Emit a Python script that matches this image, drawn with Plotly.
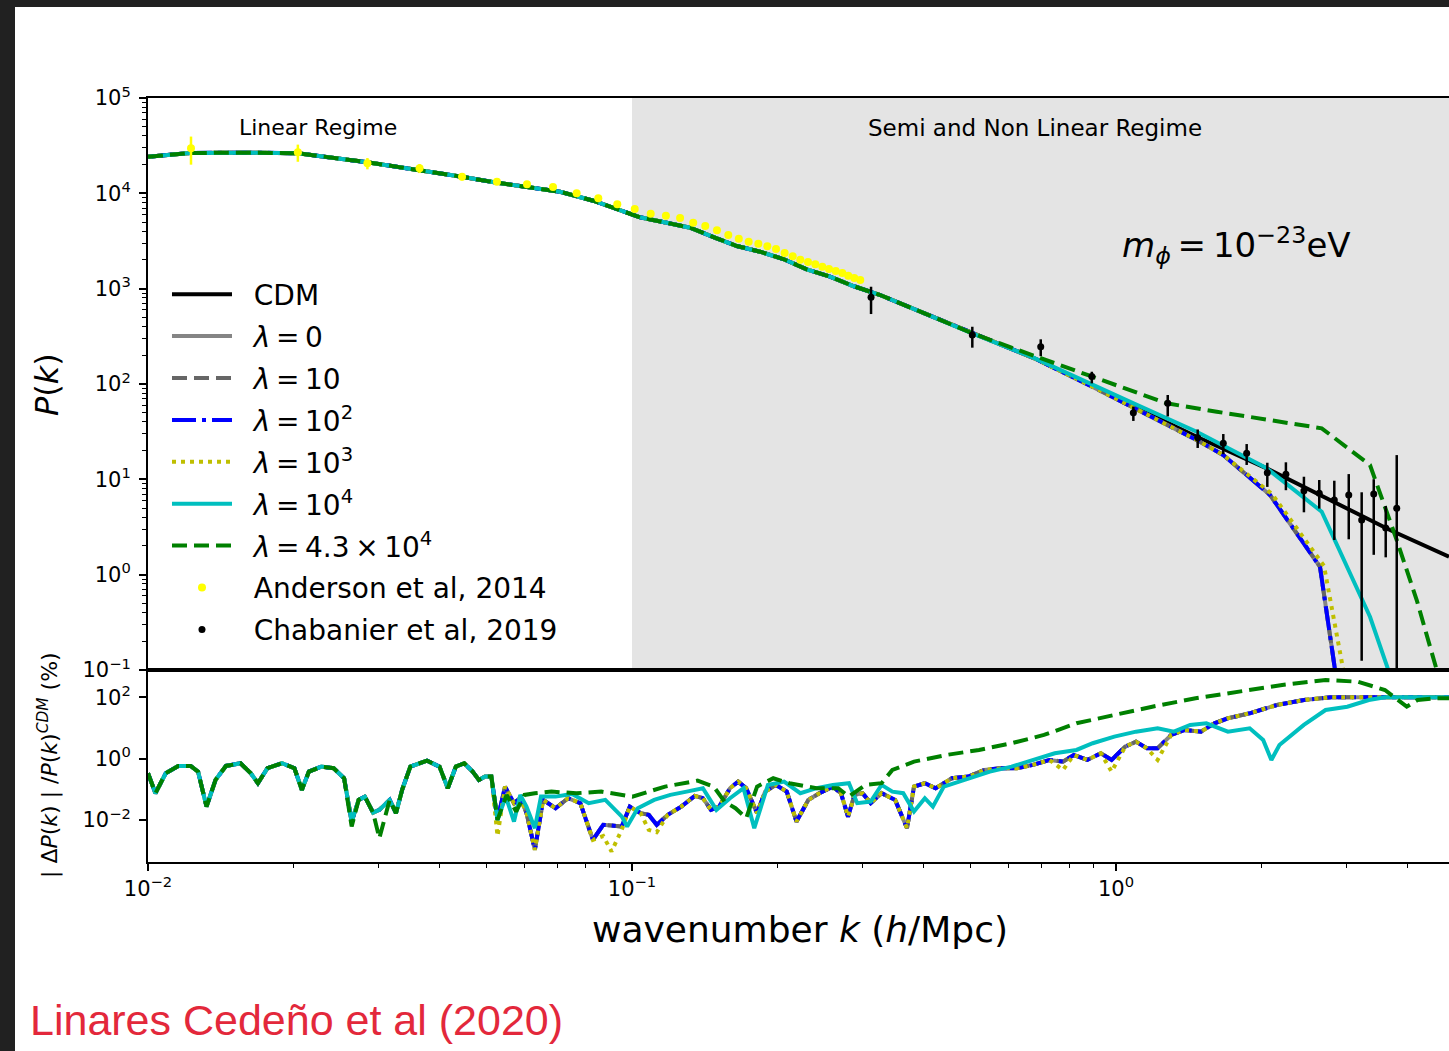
import plotly.graph_objects as go

# ---------------- data ----------------
# Upper panel, P(k): part shared by all models (k <= 0.5 h/Mpc)
k_lin = [0.0100, 0.01222, 0.01656, 0.02040, 0.02835, 0.03640, 0.04455, 0.05260, 0.06068, 0.07099,
         0.08318, 0.09370, 0.1039, 0.1179, 0.1318, 0.1496, 0.1646, 0.1839, 0.2054, 0.2296,
         0.2565, 0.2865, 0.3255, 0.4022, 0.5048]
P_lin = [24200, 26500, 26700, 26300, 21200, 17600, 14900, 12930, 11730, 10400,
         8370, 6800, 5605, 4919, 4360, 3375, 2802, 2442, 2047, 1596,
         1335, 1066, 858, 551, 340]

# Upper panel: high-k tails of each model
k_cdm = [0.6783, 0.8913, 1.086, 1.468, 2.048, 3.682, 4.875]
P_cdm = [186, 95.3, 59.0, 28.0, 13.05, 2.94, 1.543]
k_l0 = [0.6783, 0.8913, 1.086, 1.468, 1.666, 2.081, 2.639, 2.835, 2.876]      # lambda = 0, 10, 10^2
P_l0 = [186, 94.4, 56.9, 25.9, 17.99, 6.85, 1.21, 0.1, 0.0299]
k_l3 = [0.6783, 0.8913, 1.086, 1.468, 1.666, 2.101, 2.690, 3.001]
P_l3 = [186, 94.4, 56.9, 25.9, 17.99, 7.01, 1.233, 0.0616]
k_l4 = [0.6783, 0.8913, 1.084, 1.468, 1.666, 2.048, 2.661, 3.348, 3.653, 3.771]
P_l4 = [187, 98, 63, 31.6, 22.4, 13.05, 4.575, 0.362, 0.1, 0.0484]
k_l43 = [0.6783, 0.7306, 0.8913, 1.273, 1.615, 2.661, 3.348, 3.802, 4.181, 4.599, 4.671]
P_l43 = [197, 171.4, 120, 62.7, 51.2, 34.3, 14.13, 2.31, 0.542, 0.1, 0.0616]

# Anderson et al, 2014
k_and = [0.01227, 0.0204, 0.0284, 0.0364, 0.04455, 0.05259, 0.06068, 0.06868, 0.07685, 0.08518,
         0.09324, 0.1013, 0.1093, 0.1175, 0.1257, 0.1338, 0.1417, 0.1498, 0.1581, 0.1662,
         0.1742, 0.1824, 0.1904, 0.1984, 0.2067, 0.2148, 0.2227, 0.2310, 0.2392, 0.2473,
         0.2553, 0.2636, 0.2720, 0.2798, 0.2879, 0.2962]
P_and = [29690, 26940, 20650, 18310, 14940, 13240, 12430, 11650, 10007, 8868,
         7672, 6847, 6113, 5824, 5511, 4919, 4542, 4095, 3655, 3343,
         3109, 2962, 2782, 2606, 2366, 2185, 2013, 1904, 1801, 1700,
         1607, 1532, 1460, 1368, 1294, 1233]
e_and = [9700, 5500, 2800, 2000, 1300, 900, 700, 500, 350, 280,
         220, 180, 150, 130, 110, 100, 90, 80, 70, 65,
         60, 55, 50, 48, 45, 42, 40, 38, 36, 34,
         32, 30, 29, 28, 27, 26]

# Chabanier et al, 2019
k_chab = [0.3118, 0.5048, 0.699, 0.8913, 1.086, 1.279, 1.475, 1.666, 1.862, 2.054,
          2.244, 2.445, 2.630, 2.825, 3.026, 3.218, 3.408, 3.608, 3.802]
P_chab = [811.8, 326.5, 246.2, 119.5, 49.97, 62.7, 27.33, 23.87, 18.75, 11.73,
          11.29, 7.60, 7.136, 6.07, 6.85, 3.745, 7.015, 3.09, 4.966]
ep_chab = [236, 72, 48, 15, 8, 14, 6, 6, 4.7, 3.2, 3.8, 3.05, 2.7, 3.6, 4.5, 3.57, 3.0, 2.16, 13]
em_chab = [270, 86, 50, 18, 9, 17, 6, 5.5, 4.6, 3.4, 3.6, 3.09, 2.2, 3.76, 4.5, 3.62, 5.4, 1.57, 4.9]

# Lower panel, |dP|/P_CDM (%): part shared by all models (k <= 0.051)
k_r_lo = [0.01000, 0.01036, 0.01088, 0.01155, 0.01225, 0.01269, 0.01321, 0.01379, 0.01449, 0.01553,
          0.01631, 0.01687, 0.01765, 0.01891, 0.02007, 0.02079, 0.02150, 0.02281, 0.02419, 0.02542,
          0.02635, 0.02724, 0.02805, 0.02918, 0.03006, 0.03157, 0.03253, 0.03350, 0.03484, 0.03771,
          0.04002, 0.04163, 0.04326, 0.04502, 0.04685, 0.04827, 0.04970, 0.05121]
r_lo = [0.3345, 0.0746, 0.3345, 0.578, 0.578, 0.377, 0.0273, 0.2024, 0.578, 0.708,
        0.3345, 0.158, 0.4867, 0.708, 0.4867, 0.0956, 0.377, 0.549, 0.4867, 0.230,
        0.00887, 0.0452, 0.0578, 0.0174, 0.0213, 0.0452, 0.01666, 0.0956, 0.549, 0.861,
        0.549, 0.1086, 0.549, 0.708, 0.377, 0.2024, 0.2594, 0.2594]
r_lo_l43 = [0.3345, 0.0746, 0.3345, 0.578, 0.578, 0.377, 0.0273, 0.2024, 0.578, 0.708,
            0.3345, 0.158, 0.4867, 0.708, 0.4867, 0.0956, 0.377, 0.549, 0.4867, 0.230,
            0.0061, 0.0452, 0.0578, 0.0174, 0.00255, 0.0452, 0.01666, 0.0956, 0.549, 0.861,
            0.549, 0.1086, 0.549, 0.708, 0.377, 0.2024, 0.2594, 0.2594]

# Lower panel: lambda = 0, 10, 10^2 (identical) and 10^3
k_r_hi = [0.05274, 0.05465, 0.05704, 0.05877, 0.06053, 0.06299, 0.06552, 0.06952, 0.07376, 0.07821,
          0.08302, 0.08720, 0.09072, 0.09521, 0.09897, 0.1042, 0.1083, 0.1125, 0.1185, 0.1264,
          0.1348, 0.1401, 0.1456, 0.1514, 0.1594, 0.1657, 0.1722, 0.1813, 0.1884, 0.1983,
          0.2088, 0.2187, 0.2314, 0.2438, 0.2600, 0.2702, 0.2795, 0.2882, 0.2995, 0.3113,
          0.3278, 0.3497, 0.3700, 0.3825, 0.4027, 0.4239, 0.4581, 0.4951, 0.5348, 0.5779,
          0.6242, 0.6740, 0.7285, 0.7771, 0.8178, 0.8724, 0.9302, 0.9793, 1.0447, 1.0998,
          1.1578, 1.219, 1.300, 1.387, 1.498, 1.597, 1.703, 1.889, 2.149, 2.444,
          2.781, 3.5, 4.875]
r_hi_l0 = [0.01008, 0.1225, 0.0353, 0.0513, 0.0170, 0.00106, 0.0452, 0.0242, 0.0513, 0.0353,
           0.00225, 0.00693, 0.00657, 0.0061, 0.0273, 0.01666, 0.01466, 0.00693, 0.01466, 0.0273,
           0.0610, 0.0513, 0.0213, 0.0273, 0.1086, 0.1781, 0.1086, 0.01666, 0.0841, 0.139,
           0.0841, 0.00887, 0.0452, 0.0746, 0.1225, 0.0746, 0.0129, 0.0657, 0.0746, 0.0353,
           0.0746, 0.0452, 0.0054, 0.1225, 0.158, 0.1086, 0.230, 0.2594, 0.4284, 0.4867,
           0.4867, 0.6235, 0.9073, 0.7985, 1.32, 0.9073, 1.499, 0.9073, 2.459, 3.578,
           2.182, 2.182, 5.916, 8.606, 7.576, 14.23, 20.7, 30.1, 56.1, 81.7,
           100, 100, 100]
r_hi_l3 = [0.003, 0.1225, 0.0353, 0.0513, 0.0170, 0.00106, 0.0452, 0.0242, 0.0513, 0.0353,
           0.00225, 0.003, 0.00094, 0.00476, 0.0273, 0.01666, 0.00476, 0.004, 0.01466, 0.0273,
           0.0610, 0.0513, 0.0213, 0.0273, 0.1086, 0.1781, 0.1086, 0.01666, 0.0841, 0.139,
           0.0841, 0.00887, 0.0452, 0.0746, 0.1225, 0.0746, 0.0129, 0.0657, 0.0746, 0.0353,
           0.0746, 0.0452, 0.0054, 0.1225, 0.158, 0.1086, 0.230, 0.2594, 0.4284, 0.4867,
           0.4867, 0.6235, 0.9073, 0.428, 1.32, 0.9073, 1.499, 0.377, 2.459, 3.578,
           2.182, 0.9073, 5.916, 8.606, 7.576, 14.23, 20.7, 30.1, 56.1, 81.7,
           100, 100, 100]

# Lower panel: lambda = 10^4
k_r_l4 = [0.05274, 0.05486, 0.05704, 0.05877, 0.06053, 0.06299, 0.06486, 0.06952, 0.07517, 0.0814,
          0.08807, 0.0953, 0.0977, 0.1028, 0.1111, 0.1200, 0.1297, 0.1401, 0.1494, 0.1594,
          0.1700, 0.1789, 0.1909, 0.2062, 0.2227, 0.2406, 0.2600, 0.2807, 0.2920, 0.3113,
          0.3278, 0.3451, 0.3634, 0.3825, 0.4027, 0.4184, 0.4408, 0.4951, 0.5488, 0.6083,
          0.6740, 0.7473, 0.8285, 0.8951, 0.992, 1.0998, 1.219, 1.317, 1.423, 1.537,
          1.703, 1.889, 2.014, 2.094, 2.176, 2.444, 2.710, 3.005, 3.329, 3.595,
          4.875]
r_r_l4 = [0.01008, 0.0578, 0.00887, 0.0657, 0.0273, 0.0054, 0.0578, 0.0578, 0.0708, 0.0353,
          0.0452, 0.0129, 0.0061, 0.0242, 0.0452, 0.0657, 0.0841, 0.1086, 0.0213, 0.0513,
          0.1086, 0.0054, 0.139, 0.1781, 0.0746, 0.1086, 0.139, 0.158, 0.0353, 0.0398,
          0.139, 0.0841, 0.0746, 0.0188, 0.0513, 0.0273, 0.1225, 0.230, 0.377, 0.549,
          0.9073, 1.499, 1.920, 3.175, 5.207, 7.576, 9.78, 7.576, 12.53, 14.23,
          7.576, 9.78, 4.065, 0.9073, 2.795, 12.53, 38.6, 49.4, 81.7, 100,
          100]

# Lower panel: lambda = 4.3 x 10^4
k_r_l43 = [0.05274, 0.05507, 0.05764, 0.05996, 0.06299, 0.06818, 0.07669, 0.08638, 0.1002, 0.1170,
           0.1366, 0.1475, 0.1553, 0.1636, 0.1722, 0.1813, 0.1958, 0.2115, 0.2406, 0.2667,
           0.2807, 0.3034, 0.3278, 0.3451, 0.3825, 0.4465, 0.5211, 0.6083, 0.7099, 0.8285,
           0.992, 1.188, 1.460, 1.794, 2.205, 2.710, 3.162, 3.595, 3.987, 4.197,
           4.536, 4.875]
r_r_l43 = [0.01008, 0.0657, 0.0188, 0.0657, 0.0746, 0.0841, 0.0746, 0.0841, 0.0578, 0.1225,
           0.192, 0.1225, 0.0398, 0.0242, 0.01145, 0.1225, 0.230, 0.158, 0.1086, 0.1086,
           0.0578, 0.139, 0.158, 0.4284, 0.7985, 1.32, 1.920, 3.175, 5.916, 14.23,
           26.5, 49.4, 92.8, 152, 251.6, 366, 322, 172.9, 49.4, 81.7,
           92.8, 92.8]

# tick labels
top_y_ticks = [0.1, 1, 10, 100, 1000, 10000, 100000]
top_y_text = ["10<sup>−1</sup>", "10<sup>0</sup>", "10<sup>1</sup>", "10<sup>2</sup>",
              "10<sup>3</sup>", "10<sup>4</sup>", "10<sup>5</sup>"]
bot_y_ticks = [0.01, 1, 100]
bot_y_text = ["10<sup>−2</sup>", "10<sup>0</sup>", "10<sup>2</sup>"]
x_ticks = [0.01, 0.1, 1]
x_text = ["10<sup>−2</sup>", "10<sup>−1</sup>", "10<sup>0</sup>"]

# ---------------- styles ----------------
FONT = "DejaVu Sans"
LW = 4
GAP = "\u2002\u200a"   # gap between legend sample and label
S = "\u2009"           # thin space (math-style spacing)
models = [
    dict(name="<i>λ</i>" + S + "=" + S + "0", color="#858585", dash="solid",
         k=k_lin + k_l0, P=P_lin + P_l0, kr=k_r_lo + k_r_hi, r=r_lo + r_hi_l0),
    dict(name="<i>λ</i>" + S + "=" + S + "10", color="#666666", dash="15px,7px",
         k=k_lin + k_l0, P=P_lin + P_l0, kr=k_r_lo + k_r_hi, r=r_lo + r_hi_l0),
    dict(name="<i>λ</i>" + S + "=" + S + "10<sup>2</sup>", color="#0000ff", dash="24px,6px,4px,6px",
         k=k_lin + k_l0, P=P_lin + P_l0, kr=k_r_lo + k_r_hi, r=r_lo + r_hi_l0),
    dict(name="<i>λ</i>" + S + "=" + S + "10<sup>3</sup>", color="#bfbf00", dash="4px,5px",
         k=k_lin + k_l3, P=P_lin + P_l3, kr=k_r_lo + k_r_hi, r=r_lo + r_hi_l3),
    dict(name="<i>λ</i>" + S + "=" + S + "10<sup>4</sup>", color="#00bfbf", dash="solid",
         k=k_lin + k_l4, P=P_lin + P_l4, kr=k_r_lo + k_r_l4, r=r_lo + r_r_l4),
    dict(name="<i>λ</i>" + S + "=" + S + "4.3" + S + "×" + S + "10<sup>4</sup>", color="#008000",
         dash="15px,7px",
         k=k_lin + k_l43, P=P_lin + P_l43, kr=k_r_lo + k_r_l43, r=r_lo_l43 + r_r_l43),
]

fig = go.Figure()

# CDM (upper panel)
fig.add_trace(go.Scatter(x=k_lin + k_cdm, y=P_lin + P_cdm, mode="lines", name=GAP + "CDM",
                         line=dict(color="black", width=LW), xaxis="x", yaxis="y",
                         legendgroup="cdm"))
for i, m in enumerate(models):
    fig.add_trace(go.Scatter(x=m["k"], y=m["P"], mode="lines", name=GAP + m["name"],
                             line=dict(color=m["color"], width=LW, dash=m["dash"]),
                             xaxis="x", yaxis="y", legendgroup="m%d" % i))

fig.add_trace(go.Scatter(x=k_and, y=P_and, mode="markers", name=GAP + "Anderson et al, 2014",
                         marker=dict(color="#ffff00", size=8),
                         error_y=dict(type="data", array=e_and, color="#ffff00", thickness=2.5, width=0),
                         xaxis="x", yaxis="y", legendgroup="and"))
fig.add_trace(go.Scatter(x=k_chab, y=P_chab, mode="markers", name=GAP + "Chabanier et al, 2019",
                         marker=dict(color="black", size=7),
                         error_y=dict(type="data", symmetric=False, array=ep_chab, arrayminus=em_chab,
                                      color="black", thickness=2.5, width=0),
                         xaxis="x", yaxis="y", legendgroup="chab"))

# lower panel
for m in models:
    fig.add_trace(go.Scatter(x=m["kr"], y=m["r"], mode="lines", showlegend=False,
                             line=dict(color=m["color"], width=LW, dash=m["dash"]),
                             xaxis="x2", yaxis="y2"))

minor_top = [d * 10 ** e for e in range(-1, 5) for d in range(2, 10)]
minor_x = [d * 10 ** e for e in range(-2, 1) for d in range(2, 10)]

axis_common = dict(type="log", showgrid=False, zeroline=False, showline=True,
                   linecolor="black", linewidth=2, tickcolor="black",
                   tickfont=dict(family=FONT, size=21, color="black"))

split = (862 - 670) / (862 - 98)

fig.update_layout(
    width=1449, height=1051, autosize=False,
    margin=dict(l=148, r=0, t=98, b=189, pad=0),
    paper_bgcolor="white", plot_bgcolor="white",
    font=dict(family=FONT, color="black"),
    xaxis=dict(axis_common, range=[-2, 0.688], domain=[0, 1], anchor="y",
               showticklabels=False, ticks="", mirror=True),
    yaxis=dict(axis_common, range=[-1, 5], domain=[split, 1], anchor="x",
               tickvals=top_y_ticks, ticktext=top_y_text, ticks="outside", ticklen=7, tickwidth=1.5,
               ticklabelstandoff=4,
               minor=dict(tickvals=minor_top, ticks="outside", ticklen=4, tickwidth=1, tickcolor="black")),
    xaxis2=dict(axis_common, range=[-2, 0.688], domain=[0, 1], anchor="y2", mirror=True,
                tickvals=x_ticks, ticktext=x_text, ticks="outside", ticklen=7, tickwidth=1.5,
                minor=dict(tickvals=minor_x, ticks="outside", ticklen=4, tickwidth=1, tickcolor="black")),
    yaxis2=dict(axis_common, range=[-3.37, 2.89], domain=[0, split], anchor="x2",
                tickvals=bot_y_ticks, ticktext=bot_y_text, ticks="outside", ticklen=7, tickwidth=1.5,
                ticklabelstandoff=4),
    legend=dict(x=0.0146, y=0.7755, xanchor="left", yanchor="top", bgcolor="rgba(0,0,0,0)",
                font=dict(family=FONT, size=28, color="black"), itemwidth=60,
                tracegroupgap=2.5),
    showlegend=True,
)

# shaded semi/non-linear regime (upper panel only)
fig.add_shape(type="rect", xref="x", yref="y domain", x0=0.1, x1=100, y0=0, y1=1,
              fillcolor="#e4e4e4", line=dict(width=0), layer="below")

# dark frame of the screenshot
fig.add_shape(type="rect", xref="paper", yref="paper", x0=-0.2, x1=1.2,
              y0=(862 - 7) / 764, y1=1.3, fillcolor="#212121", line=dict(width=0))
fig.add_shape(type="rect", xref="paper", yref="paper", x0=-0.2, x1=(15 - 148) / 1301,
              y0=-0.4, y1=1.3, fillcolor="#212121", line=dict(width=0))


def px_x(x):
    return (x - 148) / 1301


def px_y(y):
    return (862 - y) / 764


annots = [
    dict(text="Linear Regime", x=px_x(318), y=px_y(128), size=22),
    dict(text="Semi and Non Linear Regime", x=px_x(1035), y=px_y(128), size=23),
    dict(text="<i>m</i><sub><i>ϕ</i></sub>" + S + "=" + S + "10<sup>−23</sup>eV",
         x=px_x(1236), y=px_y(245), size=34),
    dict(text="wavenumber <i>k</i> (<i>h</i>/Mpc)", x=px_x(800), y=px_y(929), size=36),
    dict(text="<i>P</i>(<i>k</i>)", x=px_x(47), y=px_y(385), size=32, angle=-90),
    dict(text="| Δ<i>P</i>(<i>k</i>) | /<i>P</i>(<i>k</i>)<sup><i>CDM</i></sup> (%)",
         x=px_x(48), y=px_y(765), size=22, angle=-90),
]
for a in annots:
    fig.add_annotation(text=a["text"], x=a["x"], y=a["y"], xref="paper", yref="paper",
                       showarrow=False, xanchor="center", yanchor="middle",
                       textangle=a.get("angle", 0),
                       font=dict(family=FONT, size=a["size"], color="black"))

fig.add_annotation(text="Linares Cedeño et al (2020)", x=px_x(28), y=px_y(1020),
                   xref="paper", yref="paper", showarrow=False, xanchor="left", yanchor="middle",
                   font=dict(family="Liberation Sans", size=43, color="#e3283b"))

fig.write_html("out.html")
